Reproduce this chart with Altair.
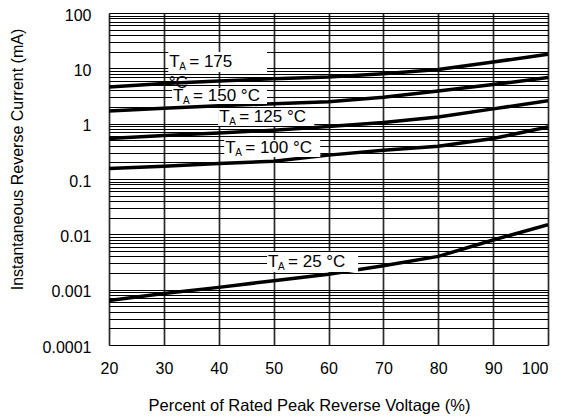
import altair as alt
import pandas as pd
import math

FONT = "Liberation Sans"

x_pct = [20, 30, 40, 50, 60, 70, 80, 90, 100]
t175 = [4.6, 5.3, 5.9, 6.5, 7.0, 8.0, 9.5, 13.0, 18.0]
t150 = [1.7, 1.9, 2.1, 2.3, 2.5, 3.0, 3.9, 5.1, 6.8]
t125 = [0.54, 0.61, 0.68, 0.76, 0.89, 1.05, 1.32, 1.85, 2.6]
t100 = [0.155, 0.17, 0.19, 0.21, 0.27, 0.33, 0.39, 0.54, 0.87]
t25 = [0.00064, 0.00085, 0.0011, 0.00145, 0.0019, 0.0027, 0.004, 0.0079, 0.015]

series = {"175": t175, "150": t150, "125": t125, "100": t100, "25": t25}

# label boxes (data coordinates)
lab_name = ["175", "150", "125", "100", "25"]
lab_rest = ["= 175", "= 150 °C", "= 125 °C", "= 100 °C", "= 25 °C"]
lab_x1 = [30.8, 31.5, 39.9, 41.0, 48.8]
lab_x2 = [48.8, 48.8, 57.4, 58.5, 65.4]
lab_y1 = [19.7, 4.41, 1.92, 0.507, 0.0048]
lab_y2 = [8.6, 2.27, 0.908, 0.25, 0.00208]

decades = [0.0001, 0.001, 0.01, 0.1, 1, 10, 100]
x_ticks = [20, 30, 40, 50, 60, 70, 80, 90, 100]

minor_vals = []
for d in range(-4, 2):
    for k in range(1, 10):
        minor_vals.append(round(k * 10 ** d, 8))
minor_vals.append(100)

rows = []
for name, vals in series.items():
    for xv, yv in zip(x_pct, vals):
        rows.append({"T": name, "x": xv, "y": yv})
df = pd.DataFrame(rows)

labs = pd.DataFrame({
    "name": lab_name, "rest": lab_rest,
    "x1": lab_x1, "x2": lab_x2, "y1": lab_y1, "y2": lab_y2,
})
labs["ym"] = [math.sqrt(a * b) for a, b in zip(lab_y1, lab_y2)]

deg_df = pd.DataFrame({"x": [30.9], "y": [5.5], "t": ["°C"]})

label_expr = "indexof([" + ",".join(repr(v) for v in decades) + "], datum.value) >= 0 ? datum.label : ''"

xscale = alt.Scale(domain=[20, 100], nice=False, zero=False)
yscale = alt.Scale(type="log", domain=[0.0001, 100], nice=False)

xaxis = alt.Axis(values=x_ticks, title="Percent of Rated Peak Reverse Voltage (%)",
                 grid=True, gridColor="#2a2a2a", gridWidth=1.7, ticks=False,
                 domain=False, labelFont=FONT, labelFontSize=16, labelColor="black",
                 labelAlign={"condition": {"test": "datum.value == 100", "value": "right"},
                             "value": "center"},
                 labelPadding=15, labelFlush=False, labelBound=False, labelOverlap=False,
                 titleFont=FONT, titleFontSize=16.5,
                 titleFontWeight="normal", titleColor="black",
                 titleX=200, titleAlign="center",
                 titleY=60, titleBaseline="middle")
yaxis = alt.Axis(values=minor_vals, labelExpr=label_expr, format="~g",
                 title="Instantaneous Reverse Current (mA)",
                 grid=True, gridColor="black", gridWidth=1, ticks=False,
                 domain=False, labelFont=FONT, labelFontSize=16, labelColor="black",
                 labelPadding=18, labelOffset=2, labelOverlap=False, labelBound=False,
                 labelFlush=False,
                 titleFont=FONT, titleFontSize=16, titleFontWeight="normal",
                 titleColor="black", titleX=-92, titleY=146, titleBaseline="middle")

lines = alt.Chart(df).mark_line(color="black", strokeWidth=3.5, clip=True).encode(
    x=alt.X("x:Q", scale=xscale, axis=xaxis),
    y=alt.Y("y:Q", scale=yscale, axis=yaxis),
    detail="T:N",
)

boxes = alt.Chart(labs).mark_rect(color="white").encode(
    x=alt.X("x1:Q", scale=xscale), x2="x2:Q",
    y=alt.Y("y1:Q", scale=yscale), y2="y2:Q",
)

base_txt = alt.Chart(labs).encode(
    x=alt.X("x1:Q", scale=xscale), y=alt.Y("ym:Q", scale=yscale)
)
t_T = base_txt.mark_text(align="left", baseline="middle", font=FONT, fontSize=17,
                         dx=1, color="black").encode(text=alt.value("T"))
t_A = base_txt.mark_text(align="left", baseline="middle", font=FONT, fontSize=10,
                         dx=11, dy=5, color="black").encode(text=alt.value("A"))
t_rest = base_txt.mark_text(align="left", baseline="middle", font=FONT, fontSize=17,
                            dx=21, color="black").encode(text="rest:N")

deg = alt.Chart(deg_df).mark_text(align="left", baseline="middle", font=FONT,
                                  fontSize=17, color="black").encode(
    x=alt.X("x:Q", scale=xscale), y=alt.Y("y:Q", scale=yscale), text="t:N")

chart = alt.layer(lines, boxes, t_T, t_A, t_rest, deg).properties(
    width=439, height=332,
    autosize=alt.AutoSizeParams(type="none"),
    padding={"left": 101, "top": 5, "right": 7, "bottom": 72},
).configure_view(stroke="black", strokeWidth=2.5).configure(background="white")

chart.save("out.html", embed_options={"renderer": "svg", "actions": False})
